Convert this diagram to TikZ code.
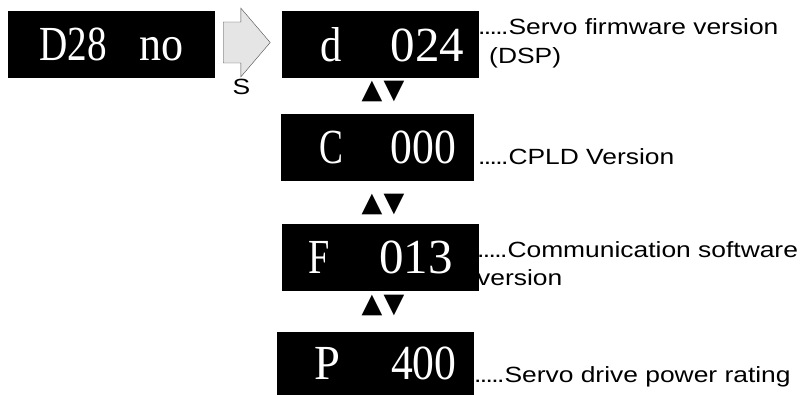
\documentclass[tikz,border=0pt]{standalone}
\usepackage{fontspec}
\usetikzlibrary{shapes.arrows}
\newfontfamily\dispfont{Liberation Serif}
\newfontfamily\notefont[FakeStretch=1.2]{Liberation Sans}
\newfontfamily\trifont{DejaVu Sans}
\newcommand{\leaddots}{.\kern-1.6pt.\kern-1.6pt.\kern-1.6pt.\kern-1.6pt.}

\begin{document}
\begin{tikzpicture}[x=1pt, y=-1pt,
    disp/.style={fill=black, text=white, inner sep=0pt, minimum height=67pt, font=\fontsize{49}{49}\dispfont},
    note/.style={anchor=base west, inner sep=0pt, font=\fontsize{22}{28}\notefont},
    updown/.style={inner sep=0pt, font=\fontsize{27}{27}\trifont}]
  \useasboundingbox (0,0) rectangle (802,395);
  % start display and the S key
  \node[disp, minimum width=207pt] (dno) at (111.5,44.5) {\scalebox{.8}[1]{D28}\hspace{32pt}\scalebox{.9}[1]{no}};
  \node[single arrow, draw=black!70, fill=black!10, inner xsep=0pt, inner ysep=20.3pt, minimum height=47pt, single arrow head extend=13.9pt, single arrow tip angle=99, anchor=tail] (skey) at (223,42.5) {};
  \node[note, anchor=base] (slab) at (241.5,94.5) {S};
  % version displays
  \node[disp, minimum width=197pt] (dver) at (380.5,44.5) {\hspace*{24pt}\scalebox{.87}[1]{d}\hspace{48.5pt}024};
  \node[disp, minimum width=193pt] (cver) at (377.5,147.5) {\hspace*{20.4pt}\scalebox{.73}[1]{C}\hspace{48pt}\scalebox{.89}[1]{000}};
  \node[disp, minimum width=197pt] (fver) at (380.5,257.5) {\scalebox{.78}[1]{F}\hspace{50pt}013};
  \node[disp, minimum width=197pt, minimum height=63pt] (prate) at (375.5,363.5) {\hspace*{20pt}\scalebox{.95}[1]{P}\hspace{50.6pt}\scalebox{.89}[1]{400}};
  \foreach \y [count=\i] in {91.5,204,305}
    \node[updown] (ud\i) at (383,\y) {▲\kern1pt▼};
  % notes
  \node[note] (dnote) at (478,35) {\leaddots Servo firmware version};
  \node[note] (dnote2) at (489,64) {(DSP)};
  \node[note] (cnote) at (478,165) {\leaddots CPLD Version};
  \node[note] (fnote) at (477,257) {\leaddots Communication software};
  \node[note] (fnote2) at (477,285) {version};
  \node[note] (pnote) at (474,382) {\leaddots Servo drive power rating};
\end{tikzpicture}
\end{document}
